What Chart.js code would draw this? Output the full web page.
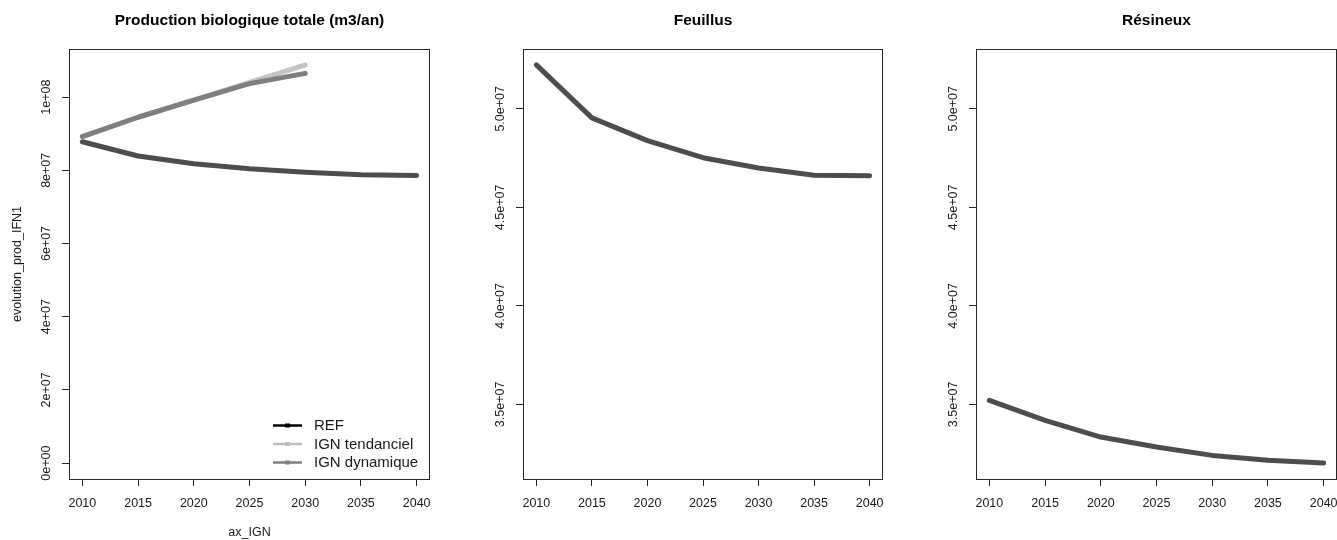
<!DOCTYPE html>
<html>
<head>
<meta charset="utf-8">
<script src="https://cdn.jsdelivr.net/npm/chart.js@4.4.1/dist/chart.umd.min.js"></script>
<style>
  html, body { margin: 0; padding: 0; background: #fff; }
  #wrap { position: relative; width: 1337px; height: 540px; overflow: hidden; }
  #wrap canvas { position: absolute; left: 0; top: 0; }
</style>
</head>
<body>
<div id="wrap">
  <canvas id="total" width="1337" height="540"></canvas>
  <canvas id="feuillus" width="1337" height="540"></canvas>
  <canvas id="resineux" width="1337" height="540"></canvas>
</div>
<script>
// ========== DATA ==========
const years = [2010, 2015, 2020, 2025, 2030, 2035, 2040];
const yearsIGN = [2010, 2015, 2020, 2025, 2030];

const refTotal = [8.78e7, 8.39e7, 8.18e7, 8.04e7, 7.95e7, 7.88e7, 7.86e7];
const ignTendanciel = [8.92e7, 9.45e7, 9.92e7, 1.040e8, 1.088e8];
const ignDynamique = [8.92e7, 9.45e7, 9.92e7, 1.037e8, 1.065e8];
const refFeuillus = [5.223e7, 4.954e7, 4.839e7, 4.752e7, 4.700e7, 4.663e7, 4.660e7];
const refResineux = [3.520e7, 3.419e7, 3.334e7, 3.284e7, 3.241e7, 3.216e7, 3.202e7];

const xTicks = [2010, 2015, 2020, 2025, 2030, 2035, 2040];
const yTicksTotal = [0, 2e7, 4e7, 6e7, 8e7, 1e8];
const yLabelsTotal = ["0e+00", "2e+07", "4e+07", "6e+07", "8e+07", "1e+08"];
const yTicksEss = [3.5e7, 4.0e7, 4.5e7, 5.0e7];
const yLabelsEss = ["3.5e+07", "4.0e+07", "4.5e+07", "5.0e+07"];

const seriesNames = ["REF", "IGN tendanciel", "IGN dynamique"];
const lineColors = ["#4d4d4d", "#c4c4c4", "#7f7f7f"];
const legendColors = ["#000000", "#bebebe", "#7f7f7f"];

// ========== HELPERS ==========
const FONT = "'Liberation Sans', Arial, Helvetica, sans-serif";
const INK = "#1a1a1a";

// R style axis range: data range widened by 4% each side
function rRange(lo, hi) {
  const d = (hi - lo) * 0.04;
  return [lo - d, hi + d];
}

function pts(xs, ys) {
  return ys.map((y, i) => ({ x: xs[i], y: y }));
}

function line(label, xs, ys, color, order) {
  return {
    label: label,
    data: pts(xs, ys),
    borderColor: color,
    backgroundColor: color,
    borderWidth: 5,
    borderCapStyle: "round",
    borderJoinStyle: "round",
    pointRadius: 0,
    tension: 0,
    fill: false,
    order: order,
  };
}

// box around plot, rotated y tick labels, optional legend
const rStyle = {
  id: "rStyle",
  afterDraw(chart, args, opts) {
    const ctx = chart.ctx;
    const ca = chart.chartArea;
    ctx.save();
    ctx.strokeStyle = "#262626";
    ctx.lineWidth = 1;
    ctx.strokeRect(Math.round(ca.left) + 0.5, Math.round(ca.top) + 0.5,
      Math.round(ca.right - ca.left) - 1, Math.round(ca.bottom - ca.top));

    const ys = chart.scales.y;
    ctx.fillStyle = INK;
    ctx.font = "12.5px " + FONT;
    ctx.textAlign = "center";
    ctx.textBaseline = "middle";
    ys.ticks.forEach((t, i) => {
      const py = ys.getPixelForValue(t.value);
      ctx.save();
      ctx.translate(ca.left - 22, py);
      ctx.rotate(-Math.PI / 2);
      ctx.fillText(opts.labels[i], 0, 0);
      ctx.restore();
    });

    if (opts.legend) {
      const x0 = ca.left + 204;
      const x1 = ca.left + 233;
      const step = 18.5;
      const yLast = ca.bottom - 16.5;
      ctx.font = "15px " + FONT;
      ctx.textAlign = "left";
      seriesNames.forEach((name, i) => {
        const yy = yLast - (seriesNames.length - 1 - i) * step;
        ctx.strokeStyle = legendColors[i];
        ctx.lineWidth = 2.5;
        ctx.beginPath();
        ctx.moveTo(x0, yy);
        ctx.lineTo(x1, yy);
        ctx.stroke();
        ctx.fillStyle = legendColors[i];
        ctx.fillRect((x0 + x1) / 2 - 2.5, yy - 2, 5, 4);
        ctx.fillStyle = INK;
        ctx.fillText(name, ca.left + 245, yy + 0.5);
      });
    }
    ctx.restore();
  },
};

function makePanel(id, p) {
  const xr = rRange(xTicks[0], xTicks[xTicks.length - 1]);
  new Chart(document.getElementById(id), {
    type: "line",
    data: { datasets: p.datasets },
    plugins: [rStyle],
    options: {
      responsive: false,
      animation: false,
      devicePixelRatio: 1,
      layout: { padding: { left: p.padLeft, right: p.padRight, top: 0, bottom: 0 } },
      plugins: {
        legend: { display: false },
        tooltip: { enabled: false },
        title: {
          display: true,
          text: p.title,
          fullSize: false,
          color: "#000",
          font: { family: FONT, size: 15.5, weight: "bold" },
          padding: { top: 11, bottom: 19.4 },
        },
        rStyle: { labels: p.yLabels, legend: p.legend },
      },
      scales: {
        x: {
          type: "linear",
          position: "bottom",
          min: xr[0],
          max: xr[1],
          afterBuildTicks: (s) => { s.ticks = xTicks.map((v) => ({ value: v })); },
          afterFit: (s) => { s.height = 61; s.paddingLeft = 0; s.paddingRight = 0; },
          grid: { drawOnChartArea: false, drawTicks: true, tickLength: 7, color: "#262626" },
          border: { display: false },
          ticks: {
            autoSkip: false, maxRotation: 0, padding: 10,
            color: INK, font: { family: FONT, size: 12.5 },
            callback: (v) => String(v),
          },
          title: {
            display: !!p.xTitle, text: p.xTitle || "",
            color: INK, font: { family: FONT, size: 12.5 },
            padding: { top: 0, bottom: 0 },
          },
        },
        y: {
          type: "linear",
          min: p.yRange[0],
          max: p.yRange[1],
          afterBuildTicks: (s) => { s.ticks = p.yTicks.map((v) => ({ value: v })); },
          afterFit: (s) => { s.width = p.yWidth; },
          grid: { drawOnChartArea: false, drawTicks: true, tickLength: 7, color: "#262626" },
          border: { display: false },
          ticks: { display: false },
          title: {
            display: !!p.yTitle, text: p.yTitle || "",
            color: INK, font: { family: FONT, size: 12.5 },
            padding: { top: 10.5, bottom: 0 },
          },
        },
      },
    },
  });
}

// ========== PANELS ==========
const totalRange = rRange(0, Math.max(...refTotal, ...ignTendanciel, ...ignDynamique));
const essRange = rRange(Math.min(...refResineux), Math.max(...refFeuillus));

makePanel("total", {
  title: "Production biologique totale (m3/an)",
  datasets: [
    line(seriesNames[0], years, refTotal, lineColors[0], 3),
    line(seriesNames[1], yearsIGN, ignTendanciel, lineColors[1], 2),
    line(seriesNames[2], yearsIGN, ignDynamique, lineColors[2], 1),
  ],
  padLeft: 0, padRight: 907, yWidth: 69,
  yRange: totalRange, yTicks: yTicksTotal, yLabels: yLabelsTotal,
  xTitle: "ax_IGN", yTitle: "evolution_prod_IFN1", legend: true,
});

makePanel("feuillus", {
  title: "Feuillus",
  datasets: [line(seriesNames[0], years, refFeuillus, lineColors[0], 1)],
  padLeft: 483, padRight: 454, yWidth: 40,
  yRange: essRange, yTicks: yTicksEss, yLabels: yLabelsEss,
  legend: false,
});

makePanel("resineux", {
  title: "Résineux",
  datasets: [line(seriesNames[0], years, refResineux, lineColors[0], 1)],
  padLeft: 936, padRight: 0, yWidth: 40,
  yRange: essRange, yTicks: yTicksEss, yLabels: yLabelsEss,
  legend: false,
});
</script>
</body>
</html>
